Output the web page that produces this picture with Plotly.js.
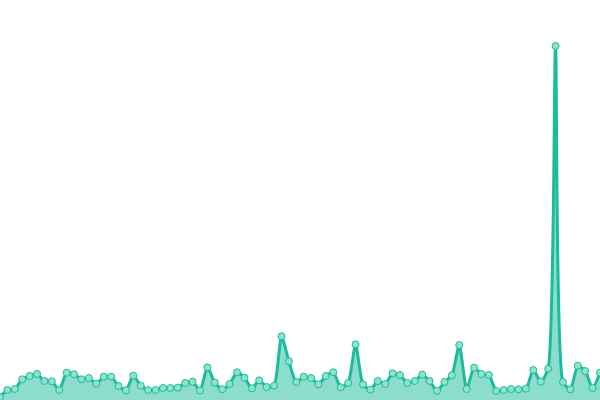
<!DOCTYPE html>
<html>
<head>
<meta charset="utf-8">
<script src="https://cdn.plot.ly/plotly-3.0.1.min.js"></script>
<style>html,body{margin:0;padding:0;background:#fff;}#chart{width:600px;height:400px;}</style>
</head>
<body>
<div id="chart"></div>
<script>
var indices = [];
var values = [3, 10, 11, 20.7, 24, 26, 19, 18.7, 10, 27.3,
  25.7, 20.7, 22, 16.3, 23.3, 23.3, 14, 9.7, 24.3, 14.3,
  10, 10, 12, 12, 12.3, 17, 18.3, 9.5, 32.7, 17.3,
  10.7, 16, 27.7, 22.3, 11.7, 19.7, 13, 14.3, 63.7, 38.7,
  18, 23.3, 22, 15.7, 24, 27.7, 12.7, 17, 55.7, 15.7,
  10.3, 19, 16, 26.7, 25, 17, 19, 25.3, 19, 9.3,
  18, 24.7, 55, 11, 32.3, 26, 25, 9, 10, 11,
  10.7, 11.3, 30, 18.3, 31.3, 354, 18, 10.7, 34.3, 29,
  12, 27.3];
for (var i = 0; i < values.length; i++) indices.push(i);

var trace = {
  x: indices,
  y: values,
  type: 'scatter',
  mode: 'lines+markers',
  fill: 'tozeroy',
  fillcolor: 'rgba(26,188,156,0.5)',
  line: {color: '#1abc9c', width: 3, shape: 'spline', smoothing: 0.6},
  marker: {size: 7, color: '#8ee3cd', line: {color: '#1abc9c', width: 1}},
  hoverinfo: 'none'
};

var layout = {
  width: 600,
  height: 400,
  margin: {l: 0, r: 0, t: 0, b: 0},
  paper_bgcolor: '#ffffff',
  plot_bgcolor: '#ffffff',
  showlegend: false,
  xaxis: {visible: false, range: [0, values.length - 1]},
  yaxis: {visible: false, range: [0, 400]}
};

Plotly.newPlot('chart', [trace], layout, {staticPlot: true, displayModeBar: false});
</script>
</body>
</html>
